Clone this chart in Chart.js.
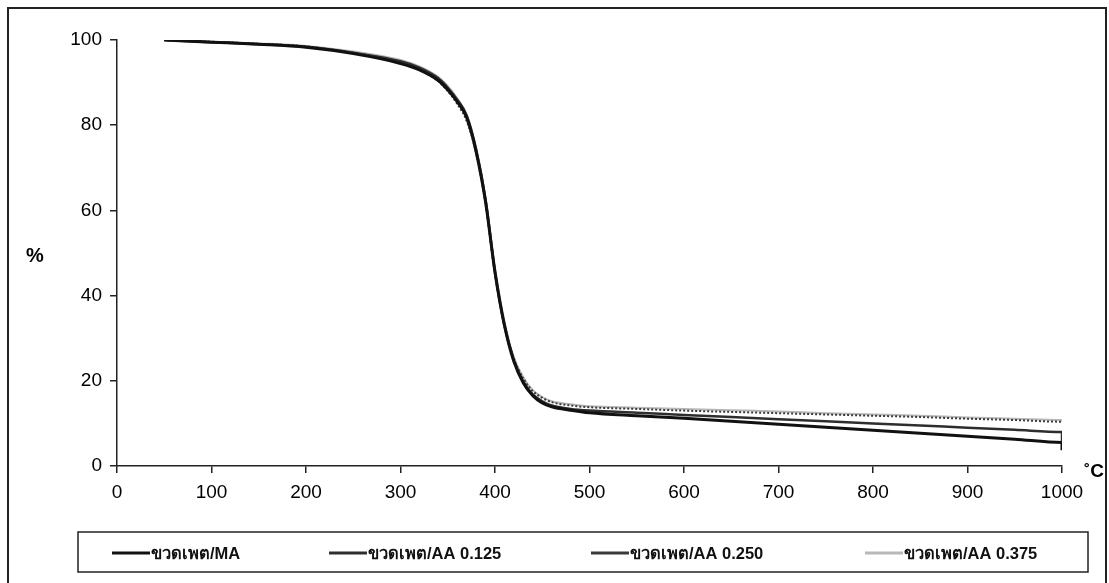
<!DOCTYPE html>
<html><head><meta charset="utf-8">
<script src="https://cdn.jsdelivr.net/npm/chart.js@4.4.1/dist/chart.umd.min.js"></script>
<style>html,body{margin:0;padding:0;background:#fff}#wrap{width:1109px;height:583px;position:relative}</style>
</head><body><div id="wrap"><canvas id="c" width="1109" height="583"></canvas></div>
<script>
const temps = [50,100,150,200,250,300,320,340,350,360,370,380,390,400,410,420,430,440,450,460,480,500,550,600,650,700,750,800,850,900,950,1000,1000];
const seriesMA    = [100,99.5,99,98.3,96.8,94.5,93,90.5,88.3,85.5,81.8,73.8,62,45.5,33,24.5,19.5,16.5,14.8,13.9,13.1,12.5,11.8,11.2,10.5,9.8,9.1,8.4,7.7,7,6.3,5.5,3.7];
const seriesAA125 = [100,99.5,99,98.4,97,95,93.5,91,88.8,86,82.3,74.3,62.5,45.5,33,24.8,19.8,16.8,15.2,14.2,13.4,13,12.5,12,11.5,11,10.5,10,9.5,9,8.5,8,5.5];
const seriesAA250 = [100,99.6,99.1,98.5,97,94.8,93,90.3,88,85,81,73.5,61.5,45,33,25.2,20.5,17.6,16,15,14.2,13.8,13.4,13,12.7,12.4,12.1,11.8,11.5,11.1,10.8,10.4,10.2];
const seriesAA375 = [100,99.6,99.2,98.6,97.3,95.3,93.8,91.3,89.2,86.3,82.5,74.8,63,46.5,34,25.5,20.8,17.8,16.2,15.2,14.5,14,13.7,13.4,13.1,12.8,12.4,12.1,11.8,11.4,11.1,10.8,10.5];
const labels = ['ขวดเพต/MA','ขวดเพต/AA 0.125','ขวดเพต/AA 0.250','ขวดเพต/AA 0.375'];
const xTicks = [0,100,200,300,400,500,600,700,800,900,1000];
const yTicks = [0,20,40,60,80,100];

const pts = arr => arr.map((v,i)=>({x:temps[i], y:v}));
const colors = ['#111111','#2e2e2e','#3a3a3a','#b8b8b8'];
const widths = [3,2.5,2,2];
const dash = [[],[],[2,2],[]];
const all = [seriesMA, seriesAA125, seriesAA250, seriesAA375];
const datasets = all.map((s,i)=>({label:labels[i], data:pts(s), borderColor:colors[i], backgroundColor:colors[i], borderWidth:widths[i], borderDash:dash[i], pointRadius:0, cubicInterpolationMode:'monotone', fill:false, order:[1,2,3,4][i]}));

const deco = {
  id:'deco',
  afterDraw(chart){
    const ctx = chart.ctx;
    ctx.save();
    ctx.strokeStyle='#222'; ctx.lineWidth=2;
    ctx.strokeRect(8,8,1098,600);
    ctx.fillStyle='#000';
    ctx.font='bold 20px "Liberation Sans", Arial, sans-serif';
    ctx.textAlign='left'; ctx.textBaseline='middle';
    ctx.fillText('%',26,256);
    ctx.font='bold 19px "Liberation Sans", Arial, sans-serif';
    ctx.fillText('˚C',1084,472);
    ctx.lineWidth=1.5; ctx.strokeStyle='#222';
    ctx.strokeRect(78,532,1010,40);
    const lx=[112,329,591,865];
    ctx.font='bold 16.5px "Liberation Sans", Arial, sans-serif';
    chart.data.datasets.forEach((d,i)=>{
      ctx.strokeStyle=d.borderColor; ctx.lineWidth=3; ctx.setLineDash([]);
      ctx.beginPath(); ctx.moveTo(lx[i],553); ctx.lineTo(lx[i]+38,553); ctx.stroke();
      ctx.fillStyle='#111';
      ctx.fillText(d.label,lx[i]+39,554);
    });
    ctx.restore();
  }
};

new Chart(document.getElementById('c'),{
  type:'line',
  data:{datasets},
  options:{
    responsive:false, animation:false,
    layout:{padding:{left:0,top:40,right:47,bottom:0}},
    plugins:{legend:{display:false},tooltip:{enabled:false}},
    scales:{
      x:{type:'linear',min:0,max:1000,
        afterBuildTicks:s=>{s.ticks=xTicks.map(v=>({value:v}));},
        afterFit:s=>{s.height=117;},
        grid:{drawOnChartArea:false,drawTicks:true,tickLength:7,color:'#222',lineWidth:1.5},
        border:{display:true,color:'#222',width:1.5},
        ticks:{color:'#000',font:{size:19,family:'"Liberation Sans", Arial, sans-serif'},padding:8,maxRotation:0,callback:v=>String(v)}
      },
      y:{min:0,max:100,
        afterBuildTicks:s=>{s.ticks=yTicks.map(v=>({value:v}));},
        afterFit:s=>{s.width=117;},
        grid:{drawOnChartArea:false,drawTicks:true,tickLength:7,color:'#222',lineWidth:1.5},
        border:{display:true,color:'#222',width:1.5},
        ticks:{color:'#000',font:{size:19,family:'"Liberation Sans", Arial, sans-serif'},padding:8,callback:v=>String(v)}
      }
    }
  },
  plugins:[deco]
});
</script></body></html>
